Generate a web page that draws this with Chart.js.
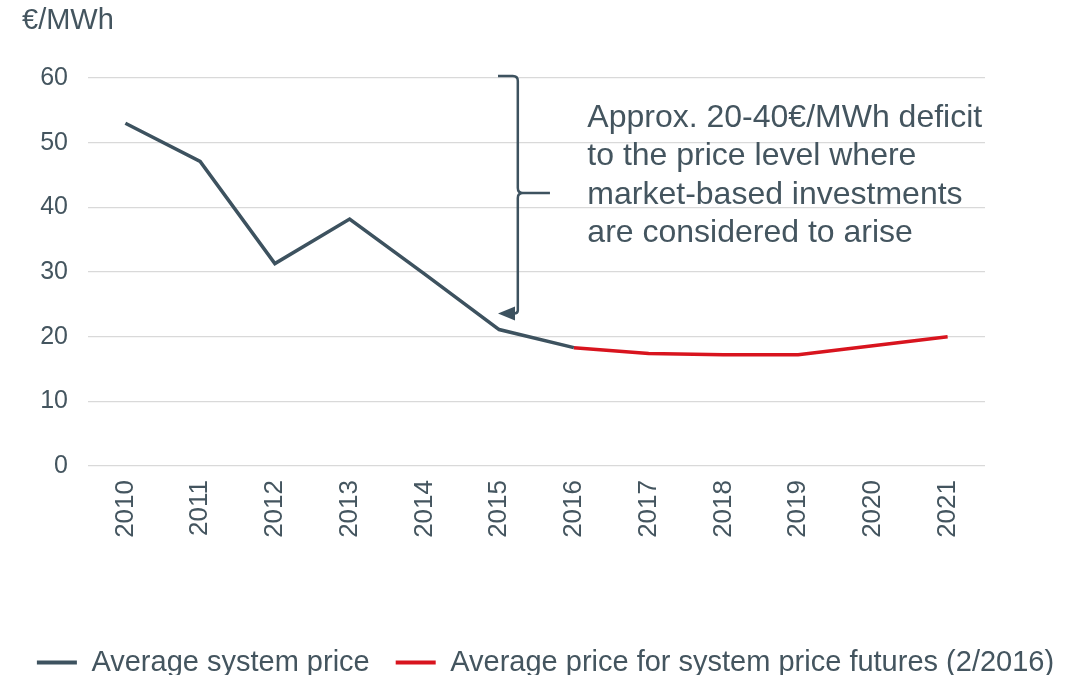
<!DOCTYPE html>
<html>
<head>
<meta charset="utf-8">
<script src="https://cdn.jsdelivr.net/npm/chart.js@4"></script>
<style>
html,body{margin:0;padding:0;background:#fff;}
#wrap{width:1091px;height:675px;position:relative;}
</style>
</head>
<body>
<div id="wrap"><canvas id="c" width="1091" height="675"></canvas></div>
<script>
const categories = ['2010','2011','2012','2013','2014','2015','2016','2017','2018','2019','2020','2021'];
const systemPrice = [53.0, 47.1, 31.3, 38.2, 29.7, 21.1, 18.3, null, null, null, null, null];
const futuresPrice = [null, null, null, null, null, null, 18.3, 17.4, 17.2, 17.2, 18.6, 20.0];
const yTicks = [0, 10, 20, 30, 40, 50, 60];
const seriesNames = ['Average system price', 'Average price for system price futures (2/2016)'];
const unitLabel = '€/MWh';
const annotationLines = ['Approx. 20-40€/MWh deficit', 'to the price level where', 'market-based investments', 'are considered to arise'];
// brace: spans from 60 down to ~23.6 between 2015 and 2016
const braceTop = 60.3, braceMid = 42.2, braceBottom = 23.6;

const GRAY = '#3d525f';
const RED = '#d8141e';
const TEXT = '#44555f';
const FONT = "'Liberation Sans', Arial, sans-serif";

const overlay = {
  id: 'overlay',
  afterDatasetsDraw(chart) {
    const ctx = chart.ctx;
    const x = chart.scales.x, y = chart.scales.y;
    ctx.save();
    // unit label
    ctx.fillStyle = TEXT;
    ctx.font = '29px ' + FONT;
    ctx.textBaseline = 'middle';
    ctx.textAlign = 'left';
    ctx.fillText(unitLabel, 22, 21);

    // brace
    const bx = x.getPixelForValue(5.25);
    const hx = x.getPixelForValue(4.985);
    const tipX = x.getPixelForValue(5.68);
    const yt = y.getPixelForValue(braceTop);
    const ym = y.getPixelForValue(braceMid);
    const yb = y.getPixelForValue(braceBottom);
    ctx.strokeStyle = GRAY;
    ctx.fillStyle = GRAY;
    ctx.lineWidth = 2.5;
    ctx.beginPath();
    ctx.moveTo(hx, yt);
    ctx.lineTo(bx - 5, yt);
    ctx.quadraticCurveTo(bx, yt, bx, yt + 5);
    ctx.lineTo(bx, ym - 5);
    ctx.quadraticCurveTo(bx, ym, bx + 5, ym);
    ctx.lineTo(tipX, ym);
    ctx.moveTo(bx + 5, ym);
    ctx.quadraticCurveTo(bx, ym, bx, ym + 5);
    ctx.lineTo(bx, yb - 3);
    ctx.quadraticCurveTo(bx, yb, bx - 4, yb);
    ctx.lineTo(hx + 14, yb);
    ctx.stroke();
    ctx.beginPath();
    ctx.moveTo(hx, yb);
    ctx.lineTo(hx + 17, yb - 7);
    ctx.lineTo(hx + 17, yb + 7);
    ctx.closePath();
    ctx.fill();

    // annotation text
    ctx.fillStyle = TEXT;
    ctx.font = '32px ' + FONT;
    ctx.textAlign = 'left';
    ctx.textBaseline = 'middle';
    const tx = x.getPixelForValue(6.18);
    let ty = y.getPixelForValue(53.8);
    annotationLines.forEach((l, i) => ctx.fillText(l, tx, ty + i * 38.3));
    ctx.restore();
  }
};

new Chart(document.getElementById('c'), {
  type: 'line',
  data: {
    labels: categories,
    datasets: [
      { label: seriesNames[0], data: systemPrice, borderColor: GRAY, backgroundColor: GRAY, borderWidth: 3.5, pointRadius: 0, tension: 0, spanGaps: false },
      { label: seriesNames[1], data: futuresPrice, borderColor: RED, backgroundColor: RED, borderWidth: 3.5, pointRadius: 0, tension: 0, spanGaps: false }
    ]
  },
  options: {
    responsive: false,
    animation: false,
    layout: { padding: { top: 78, right: 0, bottom: -12, left: 0 } },
    scales: {
      x: {
        offset: true,
        afterFit(s) { s.height = 156; },
        grid: { display: false },
        border: { display: false },
        ticks: { color: TEXT, font: { family: FONT, size: 26 }, minRotation: 90, maxRotation: 90, padding: 6 }
      },
      y: {
        min: 0, max: 60,
        afterBuildTicks(s) { s.ticks = yTicks.map(v => ({ value: v })); },
        afterFit(s) { s.width = 88; },
        grid: { color: '#d9d9d9', lineWidth: 1.3, drawTicks: false },
        border: { display: false },
        ticks: { color: TEXT, font: { family: FONT, size: 25 }, padding: 20 }
      },
      yr: {
        position: 'right',
        min: 0, max: 60,
        afterFit(s) { s.width = 106; },
        grid: { display: false, drawTicks: false },
        border: { display: false },
        ticks: { display: false }
      }
    },
    plugins: {
      legend: {
        position: 'bottom',
        labels: {
          color: TEXT,
          font: { family: FONT, size: 29 },
          boxWidth: 40, boxHeight: 4, padding: 26,
          generateLabels(chart) {
            const items = Chart.defaults.plugins.legend.labels.generateLabels(chart);
            items.forEach(it => { it.lineWidth = 0; });
            return items;
          }
        }
      },
      tooltip: { enabled: false }
    }
  },
  plugins: [overlay]
});
</script>
</body>
</html>
